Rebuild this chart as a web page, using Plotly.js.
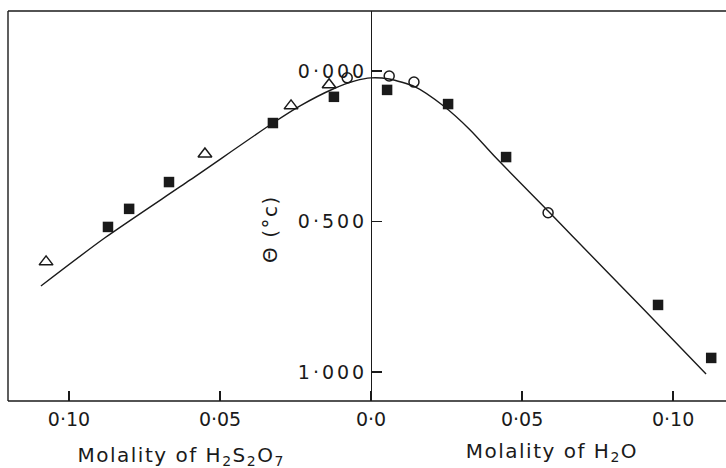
<!DOCTYPE html>
<html><head><meta charset="utf-8">
<script src="https://cdn.plot.ly/plotly-3.0.1.min.js"></script>
<style>
body{margin:0;background:#fff}#chart{width:726px;height:468px}
#chart .ytick text{letter-spacing:3px}
#chart .annotation-text{letter-spacing:1.5px}
</style>
</head><body><div id="chart"></div>
<script>
// x < 0 : molality of H2S2O7 (plotted leftwards); x > 0 : molality of H2O
const curveX = [-0.1093,-0.0881,-0.0599,-0.0325,-0.0235,-0.0126,-0.0053,0.0,0.006,0.0146,0.0238,0.0328,0.0411,0.0586,0.0666,0.0891,0.1109];
const curveY = [0.714,0.554,0.362,0.173,0.116,0.060,0.033,0.023,0.027,0.053,0.115,0.196,0.286,0.465,0.548,0.780,1.006];
const squareX = [-0.0871,-0.0801,-0.0669,-0.0325,-0.0123,0.0053,0.0255,0.0447,0.0950,0.1126];
const squareY = [0.518,0.458,0.369,0.173,0.086,0.063,0.110,0.286,0.777,0.953];
const triX = [-0.1076,-0.0550,-0.0265,-0.0139];
const triY = [0.634,0.276,0.116,0.046];
const circX = [-0.0079,0.006,0.0142,0.0586];
const circY = [0.023,0.017,0.037,0.471];
const xTickVals = [-0.10,-0.05,0,0.05,0.10];
const xTickText = ['0·10','0·05','0·0','0·05','0·10'];
const yTickVals = [0,0.5,1.0];
const yTickText = ['0·000','0·500','1·000'];

const ink = '#1a1a1a';
const font = 'DejaVu Sans, sans-serif';
const traces = [
  {x: curveX, y: curveY, mode: 'lines', line: {color: ink, width: 1.4, shape: 'spline', smoothing: 0.7}, hoverinfo: 'skip'},
  {x: squareX, y: squareY, mode: 'markers', marker: {symbol: 'square', size: 10.5, color: ink}},
  {x: triX, y: triY, mode: 'markers', marker: {symbol: 'triangle-up-open', size: 12, color: ink, line: {width: 1.5, color: ink}}},
  {x: circX, y: circY, mode: 'markers', marker: {symbol: 'circle-open', size: 10, color: ink, line: {width: 1.5, color: ink}}}
];
const layout = {
  width: 726, height: 468,
  margin: {l: 8, r: 0, t: 11, b: 67},
  paper_bgcolor: '#fff', plot_bgcolor: '#fff',
  showlegend: false,
  xaxis: {range: [-0.1202, 0.1175], tickvals: xTickVals, ticktext: xTickText,
    ticks: 'inside', ticklen: 10, tickwidth: 1.3, tickcolor: ink,
    showgrid: false, zeroline: false, showline: false, ticklabelstandoff: 5,
    tickfont: {family: font, size: 19, color: ink}},
  yaxis: {range: [1.096, -0.199], anchor: 'free', position: 0.5056,
    tickvals: yTickVals, ticktext: yTickText,
    ticks: 'inside', ticklen: 10, tickwidth: 1.3, tickcolor: ink,
    showline: true, linecolor: ink, linewidth: 1.4,
    showgrid: false, zeroline: false,
    tickfont: {family: font, size: 19, color: ink}},
  shapes: [
    {type: 'line', xref: 'paper', yref: 'paper', x0: 0, x1: 1, y0: 1, y1: 1, line: {color: ink, width: 1.4}},
    {type: 'line', xref: 'paper', yref: 'paper', x0: 0, x1: 1, y0: 0, y1: 0, line: {color: ink, width: 1.4}},
    {type: 'line', xref: 'paper', yref: 'paper', x0: 0, x1: 0, y0: 0, y1: 1, line: {color: ink, width: 1.4}}
  ],
  annotations: [
    {text: 'Molality of H<sub>2</sub>S<sub>2</sub>O<sub>7</sub>', xref: 'paper', yref: 'paper', x: 0.241, xanchor: 'center', y: -0.14, yanchor: 'middle', showarrow: false, font: {family: font, size: 20, color: ink}},
    {text: 'Molality of H<sub>2</sub>O', xref: 'paper', yref: 'paper', x: 0.758, xanchor: 'center', y: -0.13, yanchor: 'middle', showarrow: false, font: {family: font, size: 20, color: ink}},
    {text: 'Θ (°c)', textangle: -90, xref: 'paper', yref: 'paper', x: 0.365, xanchor: 'center', y: 0.44, showarrow: false, font: {family: font, size: 20, color: ink}}
  ]
};
Plotly.newPlot('chart', traces, layout, {displayModeBar: false, staticPlot: true});
</script></body></html>
